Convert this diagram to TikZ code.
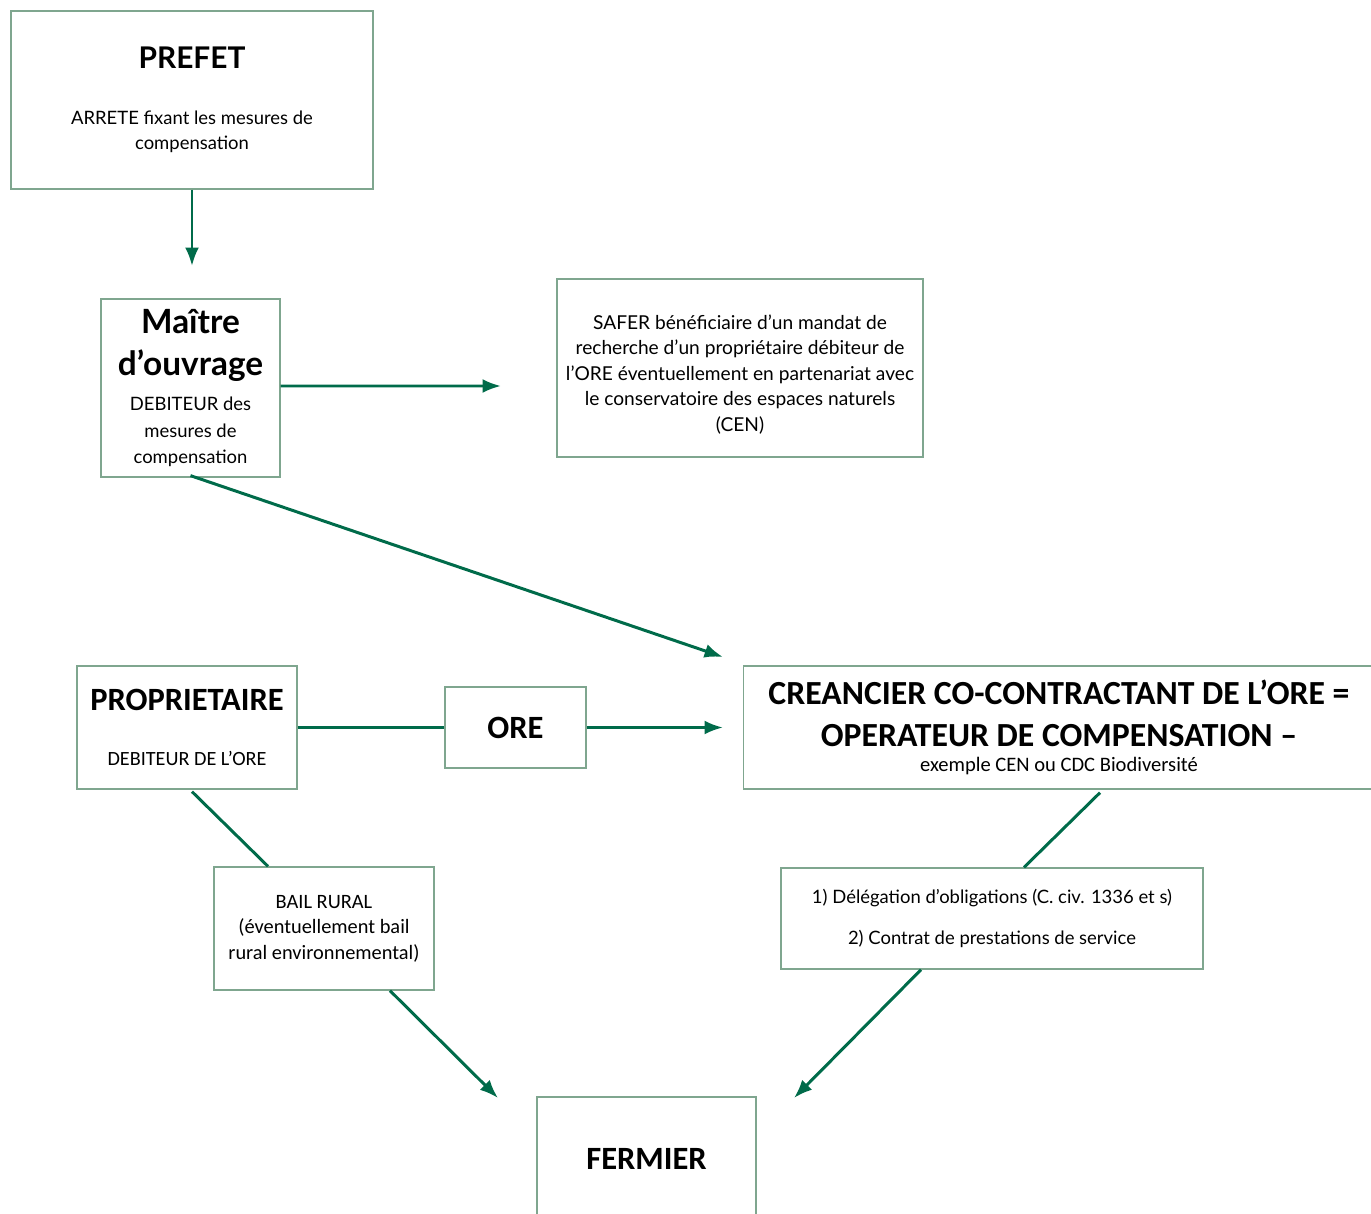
\documentclass[tikz,border=0pt]{standalone}
\usepackage{fontspec}
\setmainfont{Lato}
\newfontfamily\calib{Carlito}
\usetikzlibrary{arrows.meta}
\definecolor{oregreen}{HTML}{006B4A}
\definecolor{boxgreen}{HTML}{7FA68F}
\tikzset{
  box/.style={draw=boxgreen,line width=0.75pt,align=center,inner sep=0pt,
    font=\fontsize{10.5}{14.5}\selectfont},
  link/.style={draw=oregreen,line width=1.7pt},
  arr/.style={link,-{Latex[length=10.5pt,width=8pt]}},
}
\begin{document}
\begin{tikzpicture}[x=0.02cm,y=-0.02cm]
\useasboundingbox (0,0) rectangle (1371,1213);
\clip (0,0) rectangle (1371,1213);
% free arrow ends
\coordinate (E1) at (192,266);
\coordinate (E2) at (501,386);
\coordinate (E3) at (723,657);
\coordinate (E4) at (723,727.5);
\coordinate (E5) at (498,1098);
\coordinate (E6) at (794,1098);
% boxes
\node[box,minimum width=7.24cm,minimum height=3.56cm] (prefet) at (192,100)
  {{\fontsize{17}{17}\bfseries PREFET}\\[17pt]ARRETE fixant les mesures de\\compensation};
\node[box,minimum width=3.58cm,minimum height=3.56cm,font=\fontsize{10.5}{15}\selectfont] (maitre) at (190.5,388)
  {{\fontsize{19}{19}\bfseries Maître}\\[9pt]{\fontsize{19}{19}\bfseries d’ouvrage}\\[5pt]DEBITEUR des\\mesures de\\compensation};
\node[box,minimum width=7.32cm,minimum height=3.56cm,font=\fontsize{10.9}{14.5}\selectfont] (safer) at (740,368)
  {\rule{0pt}{15.5pt}SAFER bénéficiaire d’un mandat de\\recherche d’un propriétaire débiteur de\\l’ORE éventuellement en partenariat avec\\le conservatoire des espaces naturels\\(CEN)};
\node[box,minimum width=4.4cm,minimum height=2.46cm] (prop) at (187,727.5)
  {{\calib\fontsize{18.5}{18.5}\bfseries PROPRIETAIRE}\\[17pt]{\calib\fontsize{11.5}{14.5}\selectfont DEBITEUR DE L’ORE}};
\node[box,minimum width=2.82cm,minimum height=1.62cm] (ore) at (515.5,727.5)
  {\calib\fontsize{18.5}{18.5}\bfseries ORE};
\node[box,minimum width=12.62cm,minimum height=2.46cm] (cre) at (1059,727.5)
  {{\calib\fontsize{19.2}{19.2}\bfseries CREANCIER CO-CONTRACTANT DE L’ORE =}\\[9.5pt]{\calib\fontsize{19.2}{19.2}\bfseries OPERATEUR DE COMPENSATION –}\\[0pt]{\calib\fontsize{11.7}{13}\selectfont exemple CEN ou CDC Biodiversité}};
\node[box,minimum width=4.4cm,minimum height=2.46cm,font=\calib\fontsize{11.6}{14.5}\selectfont] (bail) at (324,928.5)
  {BAIL RURAL\\(éventuellement bail\\rural environnemental)};
\node[box,minimum width=8.44cm,minimum height=2.02cm] (deleg) at (992,918.5)
  {1) Délégation d’obligations (C. civ. 1336 et s)\\[8.5pt]2) Contrat de prestations de service};
\node[box,minimum width=4.38cm,minimum height=2.48cm] (fermier) at (646.5,1159)
  {\calib\fontsize{18.5}{18.5}\bfseries FERMIER};
% connectors
\draw[arr] (prefet.south) -- (E1);
\draw[arr] ([yshift=0.04cm]maitre.east) -- (E2);
\draw[arr] ([yshift=0.04cm]maitre.south) -- (E3);
\draw[link] (prop) -- (ore);
\draw[arr] (ore.east) -- (E4);
\draw[link] ([xshift=0.1cm,yshift=-0.04cm]prop.south) -- ([xshift=-1.12cm]bail.north);
\draw[arr] ([xshift=1.32cm]bail.south) -- (E5);
\draw[link] ([xshift=0.82cm,yshift=-0.06cm]cre.south) -- ([xshift=0.64cm]deleg.north);
\draw[arr] ([xshift=-1.42cm]deleg.south) -- (E6);
\end{tikzpicture}
\end{document}
